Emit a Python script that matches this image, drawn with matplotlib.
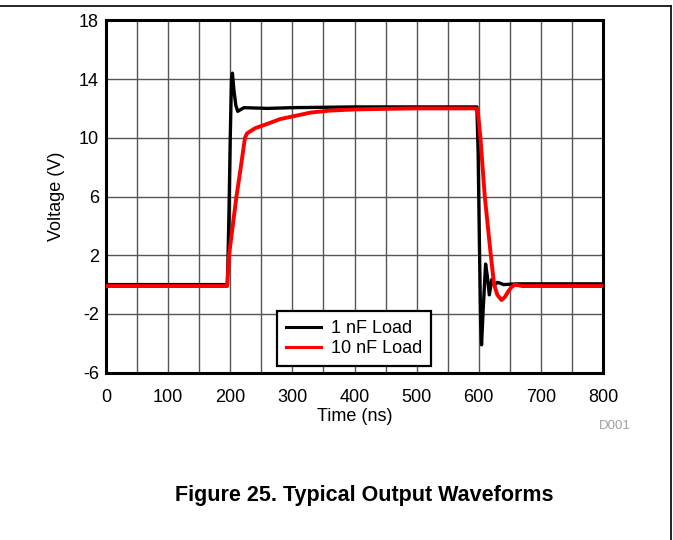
import numpy as np
import matplotlib
matplotlib.use("Agg")
from matplotlib import pyplot as plt
from matplotlib.lines import Line2D

plt.rcParams['font.family'] = ['Liberation Sans', 'DejaVu Sans']
plt.rcParams['axes.unicode_minus'] = False

# 1 nF load: fast edges with overshoot and ringing
t_1nf = [0, 195.5, 198, 200, 202, 203.5, 206, 209, 212, 216, 222, 260, 300, 400,
         500, 597, 599, 601, 603, 604.5, 607, 611, 614, 617, 621, 625, 630, 634,
         640, 660, 800]
v_1nf = [0.0, 0.0, 5.0, 10.0, 14.0, 14.4, 13.2, 12.2, 11.8, 11.9, 12.05, 12.0,
         12.05, 12.1, 12.1, 12.1, 9.0, 3.0, -2.5, -4.1, -1.8, 1.4, 0.5, -0.7,
         0.35, -0.05, 0.15, 0.1, 0.0, 0.05, 0.05]

# 10 nF load: slower edges, slow settling to 12 V
t_10nf = [0, 195, 198, 204, 210, 217, 223.7, 227, 240, 260, 280, 300, 330, 360,
          400, 450, 500, 550, 596, 599, 602.7, 609.7, 619.4, 624.7, 630, 636.6,
          642, 647, 652, 658, 670, 800]
v_10nf = [-0.1, -0.1, 2.0, 4.0, 6.0, 8.0, 10.0, 10.3, 10.65, 10.95, 11.27,
          11.45, 11.72, 11.85, 11.93, 11.97, 12.0, 12.0, 12.0, 11.6, 10.0, 6.0,
          2.0, 0.0, -0.7, -1.05, -0.85, -0.5, -0.2, 0.0, -0.1, -0.1]

x_ticks = [0, 100, 200, 300, 400, 500, 600, 700, 800]
y_ticks = [-6, -2, 2, 6, 10, 14, 18]

fig = plt.figure(figsize=(6.73, 5.4), dpi=100)
ax = fig.add_axes([106 / 673, 1 - 372.7 / 540, 497 / 673, 352.4 / 540])

ax.plot(t_1nf, v_1nf, color='black', lw=2.4, label='1 nF Load', zorder=3)
ax.plot(t_10nf, v_10nf, color='#ff0000', lw=2.8, label='10 nF Load', zorder=4)

ax.set_xlim(0, 800)
ax.set_ylim(-6, 18)
ax.set_xticks(x_ticks)
ax.set_xticks(np.arange(50, 800, 100), minor=True)
ax.set_yticks(y_ticks)
ax.tick_params(which='both', length=0, labelsize=13, colors='black')
ax.tick_params(axis='x', pad=11.5)
ax.tick_params(axis='y', pad=5)
ax.grid(True, which='both', axis='x', color='#555555', lw=1.0)
ax.grid(True, which='major', axis='y', color='#555555', lw=1.0)
ax.set_axisbelow(True)
for sp in ax.spines.values():
    sp.set_linewidth(2.2)

ax.set_xlabel('Time (ns)', fontsize=13, labelpad=1.5)
ax.set_ylabel('Voltage (V)', fontsize=13, labelpad=10)

leg = ax.legend(loc='lower left', bbox_to_anchor=((277 - 106) / 497, (372.7 - 366) / 352.4),
                fontsize=13, frameon=True, fancybox=False, borderpad=0.5,
                handlelength=1.95, handletextpad=0.55, labelspacing=0.15,
                borderaxespad=0)
leg.get_frame().set_edgecolor('black')
leg.get_frame().set_linewidth(1.6)
leg.get_frame().set_alpha(1)
for h in leg.get_lines():
    h.set_linewidth(2.2)

fig.text(631 / 673, 1 - 426 / 540, 'D001', fontsize=9.5, color='#a0a0a0',
         ha='right', va='center')
fig.text(364 / 673, 1 - 496 / 540, 'Figure 25. Typical Output Waveforms',
         fontsize=15.5, fontweight='bold', ha='center', va='center')

# page frame: top rule and right rule
fig.add_artist(Line2D([0, 671 / 673], [1 - 5.5 / 540] * 2, color='black', lw=1.2))
fig.add_artist(Line2D([671 / 673] * 2, [0, 1 - 5.5 / 540], color='black', lw=1.2))

fig.savefig('out.png', dpi=100)
